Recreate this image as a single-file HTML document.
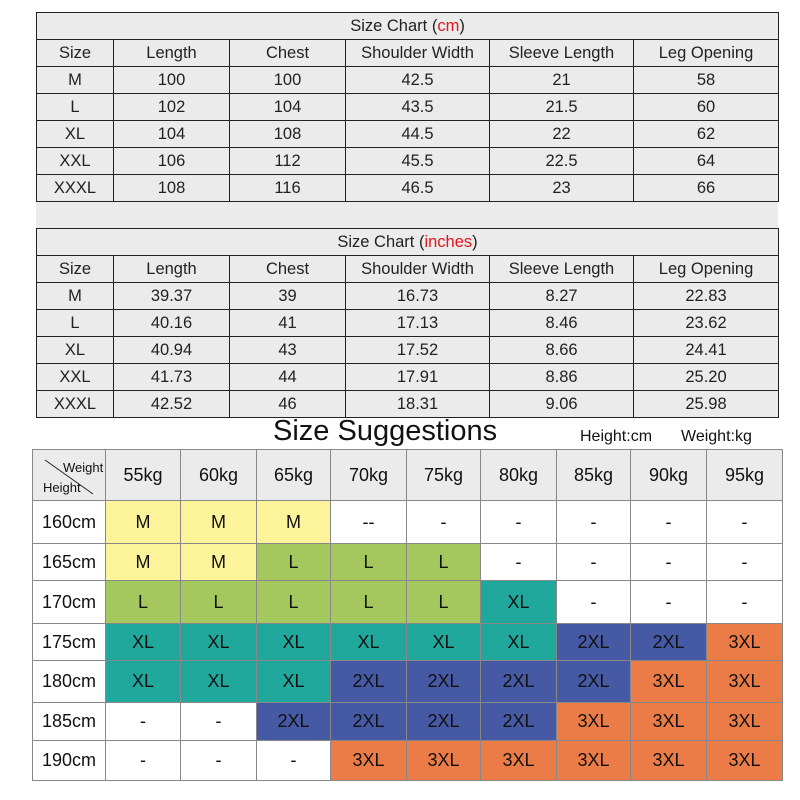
<!DOCTYPE html>
<html><head><style>
body{margin:0;width:800px;height:800px;background:#fff;position:relative;overflow:hidden;font-family:"Liberation Sans",Arial,sans-serif;}
.t{position:absolute;left:36px;width:743px;border-collapse:collapse;table-layout:fixed;background:#ebebeb;font-size:16.5px;color:#222;}
.t tr{height:27px}
.t td{border:1.5px solid #222;padding:0;text-align:center;}
.r{color:#e8141e}
.gap{position:absolute;left:36px;top:201px;width:742px;height:27px;background:#ebebeb;}
.g{position:absolute;left:32px;top:449px;border-collapse:collapse;table-layout:fixed;font-size:18px;color:#111;}
.g td{border:1px solid #888;padding:0;text-align:center;}
.h td{background:#ebebeb;}
.y{background:#fdf39a}.gr{background:#a5c85e}.tl{background:#21a89c}.b{background:#4659a4}.o{background:#ec7c47}
.w{background:#fff}
</style></head><body>
<div class="gap"></div>
<table class="t" style="top:12px">
<colgroup><col style="width:77px"><col style="width:116px"><col style="width:116px"><col style="width:144px"><col style="width:144px"><col style="width:145px"></colgroup>
<tr><td colspan="6">Size Chart (<span class="r">cm</span>)</td></tr>
<tr><td>Size</td><td>Length</td><td>Chest</td><td>Shoulder Width</td><td>Sleeve Length</td><td>Leg Opening</td></tr>
<tr><td>M</td><td>100</td><td>100</td><td>42.5</td><td>21</td><td>58</td></tr>
<tr><td>L</td><td>102</td><td>104</td><td>43.5</td><td>21.5</td><td>60</td></tr>
<tr><td>XL</td><td>104</td><td>108</td><td>44.5</td><td>22</td><td>62</td></tr>
<tr><td>XXL</td><td>106</td><td>112</td><td>45.5</td><td>22.5</td><td>64</td></tr>
<tr><td>XXXL</td><td>108</td><td>116</td><td>46.5</td><td>23</td><td>66</td></tr>
</table>
<table class="t" style="top:228px">
<colgroup><col style="width:77px"><col style="width:116px"><col style="width:116px"><col style="width:144px"><col style="width:144px"><col style="width:145px"></colgroup>
<tr><td colspan="6">Size Chart (<span class="r">inches</span>)</td></tr>
<tr><td>Size</td><td>Length</td><td>Chest</td><td>Shoulder Width</td><td>Sleeve Length</td><td>Leg Opening</td></tr>
<tr><td>M</td><td>39.37</td><td>39</td><td>16.73</td><td>8.27</td><td>22.83</td></tr>
<tr><td>L</td><td>40.16</td><td>41</td><td>17.13</td><td>8.46</td><td>23.62</td></tr>
<tr><td>XL</td><td>40.94</td><td>43</td><td>17.52</td><td>8.66</td><td>24.41</td></tr>
<tr><td>XXL</td><td>41.73</td><td>44</td><td>17.91</td><td>8.86</td><td>25.20</td></tr>
<tr><td>XXXL</td><td>42.52</td><td>46</td><td>18.31</td><td>9.06</td><td>25.98</td></tr>
</table>
<div style="position:absolute;left:273px;top:415px;font-size:29px;color:#111;">Size Suggestions</div>
<div style="position:absolute;left:580px;top:428px;font-size:16px;color:#111;">Height:cm</div>
<div style="position:absolute;left:681px;top:428px;font-size:16px;color:#111;">Weight:kg</div>
<table class="g">
<colgroup><col style="width:73px"><col style="width:75px"><col style="width:76px"><col style="width:74px"><col style="width:76px"><col style="width:74px"><col style="width:76px"><col style="width:74px"><col style="width:76px"><col style="width:76px"></colgroup>
<tr class="h" style="height:51px"><td style="position:relative;font-size:13px;"><svg width="73" height="51" style="position:absolute;left:0;top:0"><line x1="12" y1="10" x2="60" y2="44" stroke="#222" stroke-width="1"/></svg><span style="position:absolute;left:30px;top:10px">Weight</span><span style="position:absolute;left:10px;top:30px">Height</span></td><td>55kg</td><td>60kg</td><td>65kg</td><td>70kg</td><td>75kg</td><td>80kg</td><td>85kg</td><td>90kg</td><td>95kg</td></tr>
<tr style="height:43px"><td class="w">160cm</td><td class="y">M</td><td class="y">M</td><td class="y">M</td><td class="w">--</td><td class="w">-</td><td class="w">-</td><td class="w">-</td><td class="w">-</td><td class="w">-</td></tr>
<tr style="height:37px"><td class="w">165cm</td><td class="y">M</td><td class="y">M</td><td class="gr">L</td><td class="gr">L</td><td class="gr">L</td><td class="w">-</td><td class="w">-</td><td class="w">-</td><td class="w">-</td></tr>
<tr style="height:43px"><td class="w">170cm</td><td class="gr">L</td><td class="gr">L</td><td class="gr">L</td><td class="gr">L</td><td class="gr">L</td><td class="tl">XL</td><td class="w">-</td><td class="w">-</td><td class="w">-</td></tr>
<tr style="height:37px"><td class="w">175cm</td><td class="tl">XL</td><td class="tl">XL</td><td class="tl">XL</td><td class="tl">XL</td><td class="tl">XL</td><td class="tl">XL</td><td class="b">2XL</td><td class="b">2XL</td><td class="o">3XL</td></tr>
<tr style="height:42px"><td class="w">180cm</td><td class="tl">XL</td><td class="tl">XL</td><td class="tl">XL</td><td class="b">2XL</td><td class="b">2XL</td><td class="b">2XL</td><td class="b">2XL</td><td class="o">3XL</td><td class="o">3XL</td></tr>
<tr style="height:38px"><td class="w">185cm</td><td class="w">-</td><td class="w">-</td><td class="b">2XL</td><td class="b">2XL</td><td class="b">2XL</td><td class="b">2XL</td><td class="o">3XL</td><td class="o">3XL</td><td class="o">3XL</td></tr>
<tr style="height:40px"><td class="w">190cm</td><td class="w">-</td><td class="w">-</td><td class="w">-</td><td class="o">3XL</td><td class="o">3XL</td><td class="o">3XL</td><td class="o">3XL</td><td class="o">3XL</td><td class="o">3XL</td></tr>
</table>
</body></html>
